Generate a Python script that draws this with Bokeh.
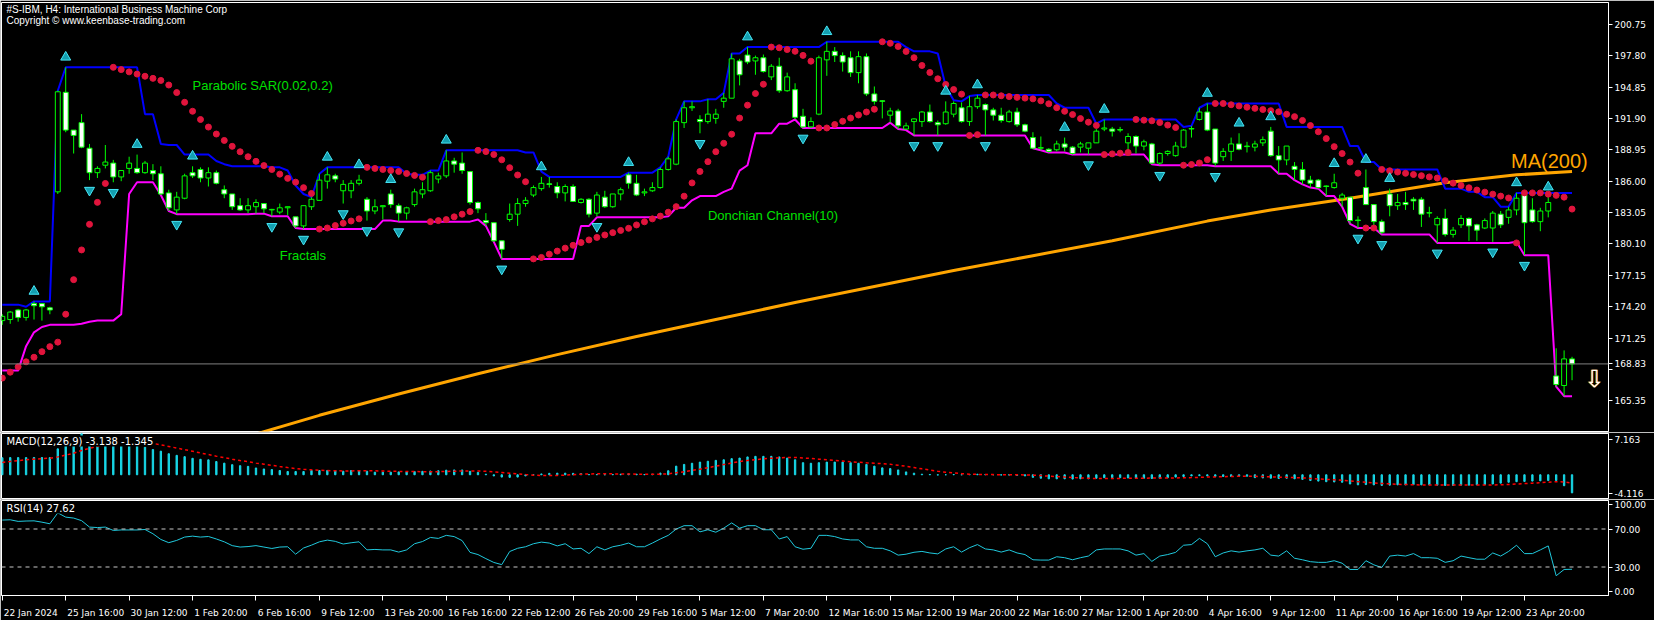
import numpy as np
from bokeh.plotting import figure
from bokeh.layouts import column
from bokeh.models import (Range1d, FixedTicker, Label, Span, ColumnDataSource, NumeralTickFormatter,
                          LinearAxis)
from bokeh.embed import file_html
from bokeh.resources import INLINE

# ---------------- data ----------------
opens = [172.9,173.0,173.9,173.2,174.5,174.5,174.1,185.0,194.35,190.8,191.5,189.1,186.8,187.5,187.7,186.4,187.2,187.2,186.8,187.0,
         186.7,184.9,183.3,184.4,186.8,187.1,186.3,186.8,185.2,184.8,183.7,183.3,183.6,183.9,183.3,183.1,183.5,182.65,181.8,183.6,
         184.2,186.0,186.5,185.1,185.1,185.8,184.3,183.2,183.6,184.8,183.7,183.0,183.8,184.8,185.1,186.2,186.5,187.9,187.7,186.9,
         184.0,182.3,182.1,180.4,182.4,182.9,183.9,184.7,185.3,185.75,185.5,184.9,185.5,184.0,184.3,183.0,184.5,183.6,184.8,186.6,
         185.8,184.9,185.1,185.4,187.1,187.6,191.5,192.9,191.8,191.6,191.9,193.5,193.8,197.3,197.85,197.3,197.6,195.8,196.8,194.5,
         194.6,192.1,191.1,192.3,197.4,198.2,197.8,197.6,196.2,197.7,194.2,193.55,192.2,192.6,190.9,191.6,191.6,192.5,191.5,191.4,
         192.3,192.9,191.6,193.0,193.2,192.7,192.2,191.6,192.5,191.3,190.1,189.1,189.0,188.95,189.5,189.2,189.2,189.1,189.6,190.9,
         190.9,190.85,189.6,190.2,189.3,189.5,187.7,188.6,188.4,189.2,190.9,191.8,192.5,190.9,188.3,188.8,189.5,189.25,189.2,189.6,
         190.7,188.4,188.0,187.4,187.1,186.1,186.1,185.55,185.4,184.4,184.5,182.35,185.4,183.8,182.2,184.8,183.7,184.0,184.3,184.3,
         183.0,181.9,182.5,181.0,181.9,182.5,181.9,181.6,181.6,182.9,182.6,183.3,184.7,183.3,182.2,183.2,167.7,166.8,169.3]
highs = [173.5,173.8,174.0,174.0,174.7,174.5,174.2,194.5,196.7,190.8,192.3,189.5,187.4,189.4,188.0,187.0,188.3,188.5,187.9,187.6,
         187.4,185.2,185.0,186.7,187.4,187.3,187.3,187.0,185.6,184.8,184.4,184.4,184.3,183.9,183.4,183.9,183.6,182.65,183.7,184.5,
         186.7,187.3,186.7,186.1,186.1,186.6,184.5,184.3,183.7,185.2,183.9,183.6,185.3,185.9,187.0,186.8,188.9,188.2,188.7,186.9,
         184.1,183.0,182.1,180.4,183.9,184.4,184.5,185.6,186.4,186.4,185.9,185.7,185.7,184.4,184.4,185.0,185.1,184.8,185.4,186.8,
         186.6,185.3,185.9,187.3,188.3,191.8,193.5,193.5,192.2,193.7,192.8,194.3,198.0,197.5,198.6,197.8,197.9,197.0,197.6,196.2,
         195.2,192.8,192.0,197.8,199.1,198.6,198.1,198.2,198.2,198.0,194.9,193.6,192.9,192.8,191.5,191.9,192.6,193.2,191.7,193.5,
         193.5,193.4,194.0,194.1,193.3,192.9,192.9,192.7,192.9,191.4,190.6,190.2,189.1,189.8,190.1,189.3,189.7,189.6,190.9,191.8,
         191.1,191.1,190.5,190.3,189.9,189.6,188.7,188.9,189.7,190.9,191.2,192.9,193.3,190.9,189.1,190.1,190.5,189.7,189.8,190.2,
         191.1,189.3,189.3,187.8,187.8,186.5,186.2,185.6,186.7,184.9,184.5,182.7,187.1,183.8,182.4,185.3,184.8,185.0,184.5,184.5,
         183.6,182.7,183.4,181.7,182.8,182.6,182.0,182.5,183.2,183.2,183.6,184.9,184.9,184.4,183.5,184.5,170.3,170.1,169.5]
lows = [172.5,172.6,172.8,172.9,173.0,172.9,173.5,184.8,190.6,188.6,189.1,186.1,186.3,187.2,185.9,186.0,186.7,186.7,186.7,186.1,
        184.7,183.2,182.9,184.3,186.3,185.9,185.5,185.7,184.4,183.3,183.2,183.0,182.95,183.0,182.7,182.9,182.8,181.6,181.5,183.3,
        184.2,185.3,185.9,183.9,184.4,185.6,182.3,182.9,182.4,183.5,182.2,182.4,183.6,184.4,185.0,185.8,186.3,186.8,186.7,183.8,
        183.0,181.8,180.3,178.7,182.2,181.8,183.6,184.5,185.1,185.4,184.4,184.1,184.1,183.9,182.6,182.7,183.5,183.5,184.2,185.3,
        184.6,184.6,185.0,185.3,187.0,187.5,191.0,192.6,190.5,191.4,191.4,192.9,193.8,195.0,197.0,196.0,196.2,195.5,194.3,194.4,
        191.8,191.0,191.0,192.2,195.9,197.2,196.3,195.8,195.2,194.0,193.2,191.9,191.5,190.9,190.8,190.3,191.1,191.5,190.3,191.3,
        192.0,191.5,191.2,192.8,190.3,191.7,191.5,191.5,191.1,190.6,189.1,188.9,188.7,188.8,188.8,188.5,188.7,188.5,189.6,190.7,
        190.2,190.6,188.9,188.6,188.9,187.6,187.5,188.4,188.3,189.1,190.1,191.7,190.7,187.4,187.9,187.9,188.9,188.7,188.8,189.3,
        188.3,186.7,187.5,186.1,185.7,185.4,185.3,184.6,185.3,183.6,182.0,181.6,183.8,181.8,181.0,182.7,183.3,183.3,183.3,181.7,
        182.6,180.2,180.8,180.7,181.6,180.4,180.4,181.5,180.3,181.6,182.0,182.8,179.05,182.1,181.3,182.6,166.7,165.8,167.3]
closes = [173.3,173.7,173.2,173.9,174.3,174.2,173.9,194.4,190.8,190.3,189.2,186.8,187.2,187.8,186.4,187.0,187.7,186.8,187.7,186.7,
          184.8,183.5,184.5,186.5,186.5,186.3,186.8,185.8,184.8,183.6,183.3,183.7,184.0,183.4,183.35,183.5,183.6,181.8,183.7,184.3,
          186.1,186.6,186.2,185.7,185.8,186.1,183.2,183.6,183.7,183.8,183.0,183.5,185.0,185.2,186.8,186.5,187.9,187.6,187.0,184.0,
          183.4,182.1,180.4,179.6,182.9,183.9,184.2,185.4,185.8,185.7,184.9,185.5,184.1,184.3,182.9,184.7,183.6,184.8,185.2,185.8,
          184.7,185.0,185.4,187.1,188.1,191.6,192.9,193.0,191.6,192.3,192.3,193.8,197.5,196.0,197.2,197.6,196.3,196.8,194.5,195.8,
          192.0,191.1,191.6,197.6,198.2,197.8,197.2,196.2,197.7,194.2,193.5,193.5,192.6,191.2,191.2,191.85,192.5,191.6,191.3,192.5,
          193.3,191.6,193.0,193.8,192.7,192.2,191.7,192.5,191.3,190.7,189.1,189.15,188.8,189.5,189.2,188.6,189.5,189.6,190.7,191.0,
          190.7,190.8,190.2,189.3,189.7,187.7,188.6,188.8,189.3,190.8,190.95,192.5,190.8,187.7,188.8,189.5,189.0,189.3,189.5,189.9,
          188.4,188.0,189.3,187.1,186.1,185.8,185.4,185.5,185.85,184.7,182.3,182.3,183.8,182.2,181.2,183.7,184.0,183.8,184.15,182.9,
          183.05,182.5,181.0,181.4,182.5,181.8,181.4,182.3,183.0,181.9,183.3,184.4,182.1,182.2,183.2,184.0,166.9,169.3,168.83]

# bars that precede the visible window (needed for the 10-bar channel)
pre_high = [173.8,174.0,174.4,173.9,174.1,173.6,173.5,173.9,174.2]
pre_low = [172.4,171.5,168.2,170.5,171.8,172.3,172.6,172.5,172.7]

# Parabolic SAR state at the first visible bar
sar_start, sar_ep_start, sar_af_start = 167.5, 174.4, 0.08

up_fractals = [4,8,17,24,41,45,49,56,68,79,94,104,119,123,134,139,152,156,160,168,172,175,191,195]
down_fractals = [11,14,22,34,38,43,46,50,63,75,88,101,115,118,124,137,146,153,171,174,181,188,192]

ma_bars = [30,40,50,60,70,80,90,100,110,120,130,140,152,160,170,175,182,191,198]
ma_vals = [161.8,164.0,166.0,167.9,169.7,171.4,173.0,174.6,176.1,177.6,179.0,180.4,182.25,183.3,184.4,185.0,185.85,186.6,186.9]

macd_pre = [1.4,1.6,1.8,2.0,2.1,2.3,2.45,2.6]
macd = [2.95,2.98,2.98,2.98,3.0,3.0,2.98,4.5,5.3,6.0,7.163,6.5,6.1,5.9,5.6,5.45,5.3,5.1,4.78,4.38,
        4.1,3.65,3.37,3.15,2.86,2.69,2.59,2.3,2.02,1.75,1.58,1.46,1.18,1.01,0.9,0.74,0.57,0.57,0.57,0.74,
        0.74,0.74,0.74,0.62,0.74,0.74,0.62,0.45,0.45,0.45,0.5,0.5,0.55,0.6,0.65,0.7,0.8,0.84,0.84,0.6,
        0.4,0.1,-0.2,-0.4,-0.45,-0.4,-0.2,0.0,0.15,0.25,0.28,0.28,0.25,0.2,0.05,0.05,0.0,0.05,0.1,0.15,
        0.1,0.05,0.1,0.3,0.7,1.5,1.8,2.0,2.2,2.35,2.5,2.6,2.8,2.9,3.1,3.2,3.2,3.2,3.1,2.9,
        2.6,2.1,2.0,2.1,2.2,2.2,2.2,2.1,2.0,1.8,1.5,1.2,1.07,0.84,0.5,0.28,0.1,0.05,-0.05,0.0,
        0.05,0.0,0.05,0.1,0.05,0.0,-0.05,-0.05,-0.1,-0.2,-0.45,-0.6,-0.7,-0.7,-0.7,-0.75,-0.7,-0.7,-0.6,-0.5,
        -0.5,-0.5,-0.55,-0.6,-0.6,-0.65,-0.6,-0.5,-0.4,-0.3,-0.2,-0.15,-0.2,-0.3,-0.3,-0.3,-0.25,-0.25,-0.5,-0.55,
        -0.6,-0.65,-0.6,-0.7,-0.8,-1.0,-1.1,-1.2,-1.25,-1.3,-1.6,-1.75,-1.7,-1.75,-1.85,-1.8,-1.75,-1.75,-1.7,-1.75,
        -1.75,-1.8,-1.85,-1.85,-1.8,-1.8,-1.75,-1.7,-1.6,-1.45,-1.3,-1.2,-1.15,-1.1,-1.05,-1.0,-1.0,-1.9,-3.138]

rsi = [79.4,79.7,78.0,78.4,78.6,77.2,75.5,87.0,82.5,81.5,78.8,72.0,71.5,72.0,68.5,69.0,69.0,69.0,69.5,65.0,
       59.0,55.6,58.0,61.5,62.5,61.5,62.1,59.5,56.5,52.5,51.0,51.5,52.5,51.0,49.5,51.0,51.3,43.5,50.0,53.0,
       56.5,58.3,57.0,54.2,55.5,56.5,48.0,48.5,48.0,48.0,45.7,48.0,54.5,56.8,61.1,60.1,63.3,62.0,57.8,45.4,
       43.1,38.8,34.8,32.5,46.3,49.7,51.3,54.5,56.2,55.2,52.2,54.5,49.0,49.7,44.1,51.3,48.0,51.3,52.9,55.2,
       51.3,51.3,55.2,59.5,63.3,69.9,73.5,73.5,67.0,69.2,66.6,70.9,76.4,70.9,73.5,73.5,69.2,69.2,59.5,62.0,
       51.3,48.7,49.7,63.3,63.3,62.0,59.5,58.5,58.5,51.3,49.7,49.7,47.0,42.5,43.5,45.5,46.4,44.8,43.8,49.0,
       51.3,45.7,50.3,53.6,49.0,48.0,45.7,48.0,44.8,43.1,37.6,37.3,37.3,40.8,39.8,37.6,39.8,41.5,48.0,49.0,
       49.0,49.0,47.0,42.5,44.1,35.9,41.5,43.1,45.4,52.9,53.6,60.1,54.5,40.8,44.8,47.0,45.7,47.0,48.0,49.7,
       42.5,41.5,47.0,39.2,37.6,35.6,34.9,34.9,36.6,34.0,27.4,27.4,36.6,32.3,29.4,41.5,42.5,41.5,44.1,39.8,
       39.8,39.2,34.9,36.6,41.5,39.8,38.2,38.2,44.8,41.5,46.4,52.9,44.1,44.1,48.0,52.2,20.8,27.4,27.62]

tick_labels = ["22 Jan 2024","25 Jan 16:00","30 Jan 12:00","1 Feb 20:00","6 Feb 16:00","9 Feb 12:00",
               "13 Feb 20:00","16 Feb 16:00","22 Feb 12:00","26 Feb 20:00","29 Feb 16:00","5 Mar 12:00",
               "7 Mar 20:00","12 Mar 16:00","15 Mar 12:00","19 Mar 20:00","22 Mar 16:00","27 Mar 12:00",
               "1 Apr 20:00","4 Apr 16:00","9 Apr 12:00","11 Apr 20:00","16 Apr 16:00","19 Apr 12:00","23 Apr 20:00"]
price_ticks = [165.35,168.3,171.25,174.2,177.15,180.1,183.05,186.0,188.95,191.9,194.85,197.8,200.75]
last_price = 168.83
macd_scale = [-4.116, 7.163]

# ---------------- derived series ----------------
o = np.array(opens); h = np.array(highs); l = np.array(lows); c = np.array(closes)
n = len(c)
xs = np.arange(n)

hh = np.concatenate([pre_high, h]); ll = np.concatenate([pre_low, l])
k = len(pre_high)
don_up = np.array([hh[i:i + k + 1].max() for i in range(n)])
don_lo = np.array([ll[i:i + k + 1].min() for i in range(n)])

def psar(h, l, s0, ep0, af0, step=0.02, mx=0.2):
    out = [s0]; ep = ep0; af = af0; up = True
    for i in range(1, len(h)):
        s = out[-1] + af * (ep - out[-1])
        if up:
            s = min(s, l[i - 1], l[i - 2] if i >= 2 else l[i - 1])
            if l[i] < s:
                up = False; s = ep; ep = l[i]; af = step
            elif h[i] > ep:
                ep = h[i]; af = min(af + step, mx)
        else:
            s = max(s, h[i - 1], h[i - 2] if i >= 2 else h[i - 1])
            if h[i] > s:
                up = True; s = ep; ep = h[i]; af = step
            elif l[i] < ep:
                ep = l[i]; af = min(af + step, mx)
        out.append(s)
    return np.array(out)

sar = psar(h, l, sar_start, sar_ep_start, sar_af_start)

mall = np.concatenate([macd_pre, macd])
signal = np.array([mall[i:i + 9].mean() for i in range(n)])

# ---------------- styling helpers ----------------
FONT = "DejaVu Sans"
W = 1654
RB = 46
X0, X1 = -0.1, 202.6
XR = Range1d(X0, X1)
PPB = (W - RB - 1) / (X1 - X0)       # screen pixels per bar
GREEN = "#00FF00"

def style(p):
    p.background_fill_color = "black"
    p.border_fill_color = "black"
    p.outline_line_color = "white"
    p.outline_line_width = 1
    p.xgrid.visible = False
    p.ygrid.visible = False
    for ax in p.yaxis:
        ax.axis_line_color = "white"
        ax.major_tick_line_color = "white"
        ax.minor_tick_line_color = None
        ax.major_tick_out = 4
        ax.major_tick_in = 0
        ax.major_label_text_color = "white"
        ax.major_label_text_font = FONT
        ax.major_label_text_font_size = "9px"
        ax.major_label_standoff = 2

def lab(fig, x, y, text, color="white", size="10px", font=FONT, base="top", **kw):
    fig.add_layout(Label(x=x, y=y, text=text, text_color=color, text_font_size=size,
                         text_font=font, text_baseline=base, **kw))

# ---------------- main price panel ----------------
YLO, YHI = 162.48, 202.79
p = figure(width=W, height=432, x_range=XR, y_range=Range1d(YLO, YHI),
           y_axis_location="right", x_axis_location=None, toolbar_location=None,
           output_backend="svg", min_border_left=1, min_border_right=RB,
           min_border_top=2, min_border_bottom=1)
style(p)
p.yaxis.ticker = FixedTicker(ticks=price_ticks + [last_price])
p.yaxis.formatter = NumeralTickFormatter(format="0.00")
# the current-price tag covers the 168.30 label
p.yaxis.major_label_overrides = {price_ticks[1]: "", last_price: "%.2f" % last_price}

p.line(ma_bars, ma_vals, color="#FFA500", line_width=3)
p.add_layout(Span(location=last_price, dimension="width", line_color="#808080", line_width=1))
p.line(xs, don_up, color="#0000FF", line_width=2)
p.line(xs, don_lo, color="#FF00FF", line_width=2)

src = ColumnDataSource(dict(x=xs, h=h, l=l, top=np.maximum(o, c), bot=np.minimum(o, c),
                            fill=["white" if cc < oo else "black" for oo, cc in zip(o, c)]))
p.segment(x0="x", y0="l", x1="x", y1="h", source=src, color=GREEN, line_width=1)
p.vbar(x="x", top="top", bottom="bot", width=0.62, fill_color="fill", line_color=GREEN,
       line_width=1, source=src)

p.scatter(xs, sar, size=6, color="#E0143C")

p.scatter(up_fractals, [h[i] + 0.95 for i in up_fractals], marker="triangle", size=10,
          fill_color="#149FB0", line_color="#45E6F5", line_width=1)
p.scatter(down_fractals, [l[i] - 0.95 for i in down_fractals], marker="inverted_triangle", size=10,
          fill_color="#149FB0", line_color="#45E6F5", line_width=1)

lab(p, X0, YHI, "#S-IBM, H4:  International Business Machine Corp", x_offset=5, y_offset=-1,
    font="Liberation Sans", size="10px")
lab(p, X0, YHI, "Copyright \u00a9 www.keenbase-trading.com", x_offset=5, y_offset=-12,
    font="Liberation Sans", size="10px")
lab(p, 24, 195.0, "Parabolic SAR(0.02,0.2)", color="#00E000", size="13px", font="Liberation Sans", base="middle")
lab(p, 35, 179.0, "Fractals", color="#00E000", size="13px", font="Liberation Sans", base="middle")
lab(p, 89, 182.77, "Donchian Channel(10)", color="#00E000", size="13px", font="Liberation Sans", base="middle")
lab(p, 190.3, 187.9, "MA(200)", color="#FFA500", size="20px", font="Liberation Sans", base="alphabetic")
# signal arrow
lab(p, 199.6, 167.4, "\u21e9", color="#FFA500", size="24px", font="DejaVu Sans", base="middle", x_offset=-1)
lab(p, 199.6, 167.4, "\u21e9", color="white", size="24px", font="DejaVu Sans", base="middle")

# ---------------- MACD panel ----------------
m = figure(width=W, height=67, x_range=XR, y_range=Range1d(macd_scale[0], macd_scale[1]),
           y_axis_location="right", x_axis_location=None, toolbar_location=None,
           output_backend="svg", min_border_left=1, min_border_right=RB,
           min_border_top=1, min_border_bottom=1)
style(m)
span_m = macd_scale[1] - macd_scale[0]
mt_top = round(macd_scale[1] - 0.09 * span_m, 3)
mt_bot = round(macd_scale[0] + 0.08 * span_m, 3)
m.yaxis.ticker = FixedTicker(ticks=[mt_bot, mt_top])
m.yaxis.major_label_overrides = {mt_top: "%.3f" % macd_scale[1], mt_bot: "%.3f" % macd_scale[0]}
m.vbar(x=xs, top=macd, bottom=0, width=0.17, color="#18D8E8")
m.line(xs, signal, color="#FF0000", line_width=1.5, line_dash="3 3")
lab(m, X0, macd_scale[1], "MACD(12,26,9) -3.138 -1.345", x_offset=5, y_offset=-2,
    background_fill_color="black")

# ---------------- RSI panel ----------------
r = figure(width=W, height=121, x_range=XR, y_range=Range1d(0, 100),
           y_axis_location="right", toolbar_location=None,
           output_backend="svg", min_border_left=1, min_border_right=RB,
           min_border_top=1, min_border_bottom=0)
style(r)
r.yaxis.ticker = FixedTicker(ticks=[4.6, 30, 70, 95.5])
r.yaxis.major_label_overrides = {4.6: "0.00", 30: "30.00", 70: "70.00", 95.5: "100.00"}
for lv in (70, 30):
    r.add_layout(Span(location=lv, dimension="width", line_color="#C8C8C8", line_dash="4 4", line_width=1))
r.line(xs, rsi, color="#20C8DC", line_width=1)
lab(r, X0, 100, "RSI(14) 27.62", x_offset=5, y_offset=-2, background_fill_color="black")

# time axis: tick marks at the bars, labels start right of each tick
ticks = [8 * i for i in range(len(tick_labels))]
xa = r.xaxis[0]
xa.ticker = FixedTicker(ticks=ticks)
xa.major_label_overrides = {t: "" for t in ticks}
xa.major_label_text_font_size = "1px"
xa.major_label_standoff = 0
xa.axis_line_color = "white"
xa.major_tick_line_color = "white"
xa.minor_tick_line_color = None
xa.major_tick_out = 5
xa.major_tick_in = 0

CW = {" ": 2.86, ":": 3.03, "J": 2.66, "a": 5.52, "n": 5.71, "F": 5.18, "e": 5.54, "b": 5.72,
      "M": 7.77, "r": 3.70, "A": 6.16, "p": 5.72}
def text_w(s):
    return sum(CW.get(ch, 5.72) for ch in s)

centers = []
for t, s in zip(ticks, tick_labels):
    cx = round(t + (text_w(s) / 2 + 1.5) / PPB, 2)
    if abs(cx - round(cx)) < 0.02:
        cx += 0.03
    centers.append(cx)
la = LinearAxis(ticker=FixedTicker(ticks=centers),
                major_label_overrides={cx: s for cx, s in zip(centers, tick_labels)},
                axis_line_color=None, major_tick_line_color=None, minor_tick_line_color=None,
                major_label_text_color="white", major_label_text_font=FONT,
                major_label_text_font_size="9px", major_label_standoff=1)
r.add_layout(la, "below")

layout = column(p, m, r, spacing=0)
open("out.html", "w").write(file_html(layout, INLINE))
